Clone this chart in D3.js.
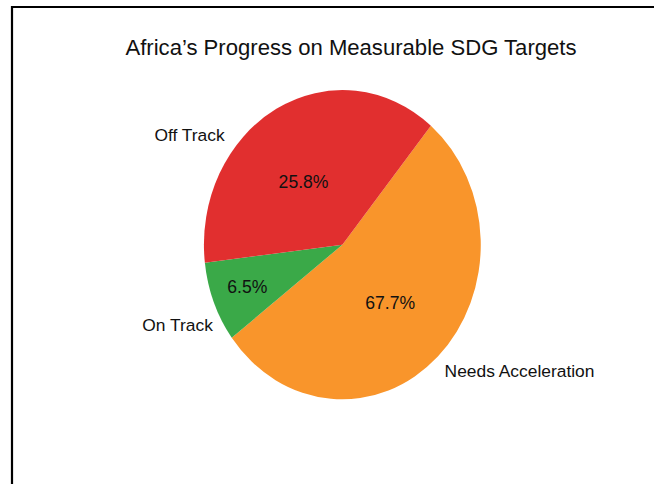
<!DOCTYPE html>
<html>
<head>
<meta charset="utf-8">
<script src="https://cdn.jsdelivr.net/npm/d3@7"></script>
<style>
  html, body { margin: 0; padding: 0; background: #fff; }
  svg { display: block; font-family: "Liberation Sans", Arial, Helvetica, sans-serif; }
</style>
</head>
<body>
<svg id="chart" width="654" height="484"></svg>
<script>
// ---- data (clockwise drawing order) ----
const categories = ["Needs Acceleration", "On Track", "Off Track"];
// printed percentage labels
const pctLabels = ["67.7%", "6.5%", "25.8%"];
// slice shares as drawn in the picture (percent of the circle)
const sliceShares = [53.7, 8.4, 37.9];
const colors = ["#f9952b", "#3aa948", "#e12f2f"];
const title = "Africa\u2019s Progress on Measurable SDG Targets";

// ---- layout ----
const svg = d3.select("#chart");
const W = 654, H = 484;
const cx = 342.4, cy = 244.7, rx = 138.5, ry = 154.7;
const deg = Math.PI / 180;
const start = 39.7 * deg;

svg.append("rect").attr("width", W).attr("height", H).attr("fill", "#fff");

// frame
svg.append("path")
  .attr("d", `M12,${H + 5} L12,7 L${W + 5},7`)
  .attr("fill", "none").attr("stroke", "#000").attr("stroke-width", 2.2);

// title
svg.append("text")
  .attr("x", 351).attr("y", 47)
  .attr("text-anchor", "middle").attr("dominant-baseline", "central")
  .attr("font-size", 22.1).attr("fill", "#111")
  .text(title);

const pie = d3.pie().sort(null).value(d => d.v)
  .startAngle(start).endAngle(start + 2 * Math.PI);
const rows = categories.map((c, i) => ({ c, v: sliceShares[i], p: pctLabels[i], col: colors[i] }));
const arcs = pie(rows);

const arc = d3.arc().innerRadius(0).outerRadius(1);
const g = svg.append("g").attr("transform", `translate(${cx},${cy})`);
g.append("g").attr("transform", `scale(${rx},${ry})`)
  .selectAll("path").data(arcs).join("path")
  .attr("d", arc).attr("fill", d => d.data.col).attr("stroke", "none");

// label placement config (drawing styles, keyed by category)
const pctRadius = { "Needs Acceleration": 0.51, "On Track": 0.74, "Off Track": 0.495 };
const pctShift = { "Needs Acceleration": 1, "On Track": 0, "Off Track": -6 };
const labRadius = { "Needs Acceleration": 1.10, "On Track": 1.07, "Off Track": 1.108 };
const labShift = { "Needs Acceleration": 1.5, "On Track": -7.2, "Off Track": -21.6 };

function pt(a, r) { return [Math.sin(a) * r * rx, -Math.cos(a) * r * ry]; }

g.selectAll("text.pct").data(arcs).join("text").attr("class", "pct")
  .each(function(d) {
    const a = (d.startAngle + d.endAngle) / 2 + pctShift[d.data.c] * deg;
    const [x, y] = pt(a, pctRadius[d.data.c]);
    d3.select(this).attr("x", x).attr("y", y);
  })
  .attr("text-anchor", "middle").attr("dominant-baseline", "central")
  .attr("font-size", 17.6).attr("fill", "#111")
  .text(d => d.data.p);

g.selectAll("text.lab").data(arcs).join("text").attr("class", "lab")
  .each(function(d) {
    const a = (d.startAngle + d.endAngle) / 2 + labShift[d.data.c] * deg;
    const [x, y] = pt(a, labRadius[d.data.c]);
    d3.select(this).attr("x", x).attr("y", y)
      .attr("text-anchor", x < 0 ? "end" : "start");
  })
  .attr("dominant-baseline", "central")
  .attr("font-size", 17.4).attr("fill", "#111")
  .text(d => d.data.c);
</script>
</body>
</html>
